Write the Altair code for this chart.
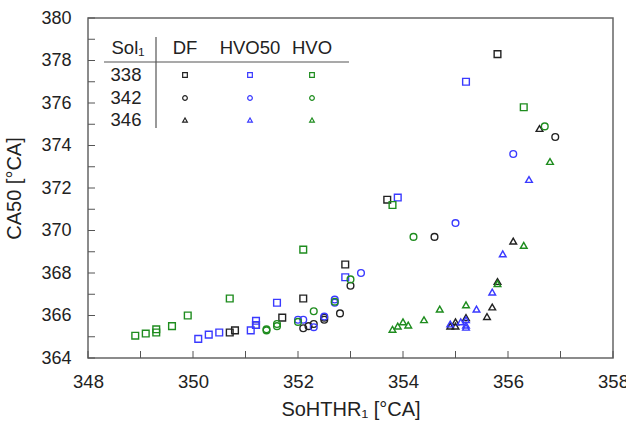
import altair as alt
import pandas as pd

fuels = ["DF", "HVO50", "HVO"]
sols = ["338", "342", "346"]
colors = ["#222222", "#3a3aff", "#1e8c1e"]
shapes = ["square", "circle", "triangle-up"]

x_ticks = [348, 349, 350, 351, 352, 353, 354, 355, 356, 357, 358]
x_labels = [348, 350, 352, 354, 356, 358]
y_ticks = [364, 365, 366, 367, 368, 369, 370, 371, 372, 373, 374, 375, 376, 377, 378, 379, 380]
y_labels = [364, 366, 368, 370, 372, 374, 376, 378, 380]

# DF
df_338_x = [350.7, 350.8, 351.2, 351.7, 352.1, 352.9, 353.7, 355.8]
df_338_y = [365.2, 365.3, 365.55, 365.9, 366.8, 368.4, 371.45, 378.3]
df_342_x = [352.1, 352.2, 352.3, 352.5, 352.5, 352.8, 353.0, 354.6, 356.9]
df_342_y = [365.4, 365.5, 365.6, 365.8, 365.9, 366.1, 367.4, 369.7, 374.4]
df_346_x = [354.9, 355.0, 355.0, 355.2, 355.6, 355.7, 355.8, 356.1, 356.6]
df_346_y = [365.5, 365.5, 365.7, 365.9, 365.95, 366.4, 367.6, 369.5, 374.8]
# HVO50
h50_338_x = [350.1, 350.3, 350.5, 351.1, 351.2, 351.2, 351.6, 352.9, 353.9, 355.2]
h50_338_y = [364.9, 365.1, 365.2, 365.3, 365.55, 365.75, 366.6, 367.8, 371.55, 377.0]
h50_342_x = [352.0, 352.1, 352.3, 352.5, 352.7, 352.7, 353.2, 355.0, 356.1]
h50_342_y = [365.8, 365.8, 365.45, 365.95, 366.6, 366.75, 368.0, 370.35, 373.6]
h50_346_x = [354.9, 355.1, 355.2, 355.2, 355.2, 355.4, 355.7, 355.9, 356.4]
h50_346_y = [365.6, 365.7, 365.8, 365.55, 365.45, 366.3, 367.1, 368.9, 372.4]
# HVO
hvo_338_x = [348.9, 349.1, 349.3, 349.3, 349.6, 349.9, 350.7, 352.1, 353.8, 356.3]
hvo_338_y = [365.05, 365.15, 365.2, 365.35, 365.5, 366.0, 366.8, 369.1, 371.2, 375.8]
hvo_342_x = [351.4, 351.4, 351.6, 351.6, 352.0, 352.3, 352.7, 353.0, 354.2, 356.7]
hvo_342_y = [365.3, 365.35, 365.5, 365.6, 365.7, 366.2, 366.65, 367.7, 369.7, 374.9]
hvo_346_x = [353.8, 353.9, 354.0, 354.1, 354.4, 354.7, 355.2, 355.8, 356.3, 356.8]
hvo_346_y = [365.35, 365.5, 365.7, 365.55, 365.8, 366.3, 366.5, 367.5, 369.3, 373.25]

series = [
    ("DF", "338", df_338_x, df_338_y), ("DF", "342", df_342_x, df_342_y), ("DF", "346", df_346_x, df_346_y),
    ("HVO50", "338", h50_338_x, h50_338_y), ("HVO50", "342", h50_342_x, h50_342_y), ("HVO50", "346", h50_346_x, h50_346_y),
    ("HVO", "338", hvo_338_x, hvo_338_y), ("HVO", "342", hvo_342_x, hvo_342_y), ("HVO", "346", hvo_346_x, hvo_346_y),
]
rows = []
for f, s, xs, ys in series:
    for a, b in zip(xs, ys):
        rows.append({"fuel": f, "sol": s, "x": a, "y": b})
data = pd.DataFrame(rows)

FONT = "Liberation Sans"
W, H = 525, 340

xscale = alt.Scale(domain=[348, 358], nice=False, zero=False)
yscale = alt.Scale(domain=[364, 380], nice=False, zero=False)
xaxis = alt.Axis(values=x_labels, title="SoHTHR\u2081 [°CA]", domain=False, ticks=False, grid=False,
                 labelPadding=14, titlePadding=9, format="d", labelFontSize=18.5,
                 labelFlush=False, labelOverlap=False, labelBound=False)
yaxis = alt.Axis(values=y_labels, title="CA50 [°CA]", domain=False, ticks=False, grid=False,
                 labelPadding=17, titlePadding=16, format="d", labelFontSize=18,
                 labelFlush=False, labelOverlap=False, labelBound=False)
cscale = alt.Scale(domain=fuels, range=colors)
sscale = alt.Scale(domain=sols, range=shapes)

points = alt.Chart(data).mark_point(filled=False, size=45, strokeWidth=1.4, opacity=1).encode(
    x=alt.X("x:Q", scale=xscale, axis=xaxis),
    y=alt.Y("y:Q", scale=yscale, axis=yaxis),
    color=alt.Color("fuel:N", scale=cscale, legend=None),
    shape=alt.Shape("sol:N", scale=sscale, legend=None),
)

xt = alt.Chart(pd.DataFrame({"x": x_ticks})).mark_rule(color="#555555", strokeWidth=1).encode(
    x=alt.X("x:Q", scale=xscale, axis=xaxis), y=alt.value(H), y2=alt.value(H - 7))
yt = alt.Chart(pd.DataFrame({"y": y_ticks})).mark_rule(color="#555555", strokeWidth=1).encode(
    y=alt.Y("y:Q", scale=yscale, axis=yaxis), x=alt.value(0), x2=alt.value(7))

# legend table (pixel layout computed here, content from lists)
col_px = [97, 162, 224]
row_py = [57, 80, 102]
hdr = pd.DataFrame({"t": ["Sol\u2081"] + fuels, "px": [40] + col_px, "py": [30] * 4})
rlab = pd.DataFrame({"t": sols, "px": [38] * 3, "py": row_py})
mk = pd.DataFrame([{"fuel": f, "sol": s, "px": col_px[i], "py": row_py[j]}
                   for i, f in enumerate(fuels) for j, s in enumerate(sols)])

def txt(df):
    return alt.Chart(df).mark_text(font=FONT, fontSize=18.5, color="#222222", align="center", baseline="middle").encode(
        x=alt.X("px:Q", scale=None), y=alt.Y("py:Q", scale=None), text="t:N")

legend_marks = alt.Chart(mk).mark_point(filled=False, size=22, strokeWidth=1.2, opacity=1).encode(
    x=alt.X("px:Q", scale=None), y=alt.Y("py:Q", scale=None),
    color=alt.Color("fuel:N", scale=cscale, legend=None),
    shape=alt.Shape("sol:N", scale=sscale, legend=None),
)
hline = alt.Chart(pd.DataFrame({"a": [0]})).mark_rule(color="#555555", strokeWidth=1.2).encode(
    x=alt.value(16), x2=alt.value(261), y=alt.value(44))
vline = alt.Chart(pd.DataFrame({"a": [0]})).mark_rule(color="#555555", strokeWidth=1.2).encode(
    x=alt.value(68), y=alt.value(19), y2=alt.value(110))

chart = alt.layer(xt, yt, points, hline, vline, txt(hdr), txt(rlab), legend_marks).properties(
    width=W, height=H,
    autosize=alt.AutoSizeParams(type="none"),
    padding={"left": 88, "top": 18, "right": 13, "bottom": 64},
    background="white",
).configure_view(stroke="#666666", strokeWidth=1.5).configure_axis(
    labelFont=FONT, labelColor="#222222",
    titleFont=FONT, titleFontSize=20, titleFontWeight="normal", titleColor="#222222",
)

chart.save("out.html", embed_options={"renderer": "svg", "actions": False})
